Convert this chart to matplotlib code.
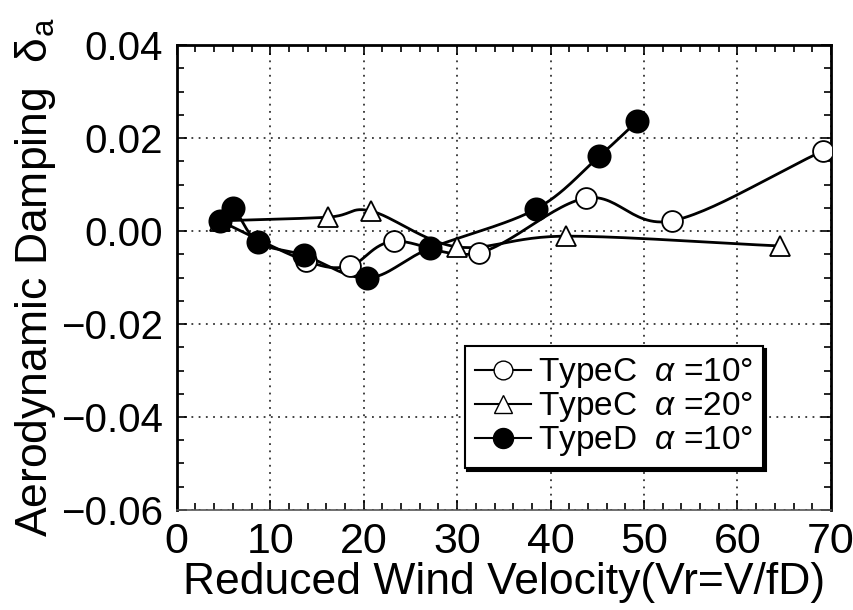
import numpy as np
import matplotlib
matplotlib.use("Agg")
import matplotlib.pyplot as plt
from matplotlib.ticker import MultipleLocator

plt.rcParams['font.family'] = ['Liberation Sans', 'DejaVu Sans']
plt.rcParams['mathtext.fontset'] = 'custom'
plt.rcParams['mathtext.rm'] = 'Liberation Sans'
plt.rcParams['mathtext.it'] = 'Liberation Sans:italic'

# Reduced wind velocity Vr and aerodynamic damping for each model
vr_c10 = [4.6, 13.8, 18.5, 23.2, 32.3, 43.8, 53.0, 69.1]
da_c10 = [0.0022, -0.0064, -0.0075, -0.0022, -0.0047, 0.0071, 0.0022, 0.0172]

vr_c20 = [4.6, 16.2, 20.8, 30.0, 41.6, 64.5]
da_c20 = [0.0022, 0.0030, 0.0043, -0.0034, -0.0011, -0.0032]

vr_d10 = [4.6, 6.0, 8.7, 13.6, 20.4, 27.1, 38.4, 45.2, 49.3]
da_d10 = [0.0022, 0.0049, -0.0024, -0.0052, -0.0101, -0.0037, 0.0047, 0.0161, 0.0237]

labels = [r"TypeC  $\mathit{\alpha}$ =10°", r"TypeC  $\mathit{\alpha}$ =20°", r"TypeD  $\mathit{\alpha}$ =10°"]

x_ticks = [0, 10, 20, 30, 40, 50, 60, 70]
y_ticks = [-0.06, -0.04, -0.02, 0.00, 0.02, 0.04]


def smooth_curve(x, y, n=30):
    """Catmull-Rom spline through the measured points."""
    p = np.column_stack([x, y]).astype(float)
    p = np.vstack([2 * p[0] - p[1], p, 2 * p[-1] - p[-2]])
    out = []
    t = np.linspace(0, 1, n)
    for i in range(1, len(p) - 2):
        p0, p1, p2, p3 = p[i - 1], p[i], p[i + 1], p[i + 2]
        seg = 0.5 * ((2 * p1)[None, :]
                     + (-p0 + p2)[None, :] * t[:, None]
                     + (2 * p0 - 5 * p1 + 4 * p2 - p3)[None, :] * t[:, None] ** 2
                     + (-p0 + 3 * p1 - 3 * p2 + p3)[None, :] * t[:, None] ** 3)
        out.append(seg if i == 1 else seg[1:])
    s = np.vstack(out)
    return s[:, 0], s[:, 1]


fig = plt.figure(figsize=(8.54, 6.10), dpi=100)
ax = fig.add_axes([0.207, 0.164, 0.766, 0.762])

series = [
    (vr_c10, da_c10, dict(marker='o', markersize=15, markerfacecolor='white')),
    (vr_c20, da_c20, dict(marker='^', markersize=14, markerfacecolor='white')),
    (vr_d10, da_d10, dict(marker='o', markersize=16, markerfacecolor='black')),
]

handles = []
for (xs, ys, mk), lab in zip(series, labels):
    sx, sy = smooth_curve(xs, ys)
    ax.plot(sx, sy, color='black', lw=2.0, zorder=3)
    ax.plot(xs, ys, linestyle='none', color='black', markeredgecolor='black',
            markeredgewidth=1.3, zorder=4, **mk)
    h, = ax.plot([], [], color='black', lw=1.5, markeredgecolor='black',
                 markeredgewidth=1.0, **{**mk, 'markersize': mk['markersize'] * 0.9})
    handles.append(h)

ax.set_xlim(0, 70)
ax.set_ylim(-0.06, 0.04)
ax.set_xticks(x_ticks)
ax.set_yticks(y_ticks)
ax.set_xticklabels([str(v) for v in x_ticks])
ax.set_yticklabels(["\u22120.06", "\u22120.04", "\u22120.02", "0.00", "0.02", "0.04"])
ax.xaxis.set_minor_locator(MultipleLocator(2))
ax.yaxis.set_minor_locator(MultipleLocator(0.005))
ax.tick_params(which='both', direction='in', top=True, right=True, width=1.2)
ax.tick_params(which='major', length=7, labelsize=29, pad=10)
ax.tick_params(axis='x', which='major', labelsize=31, pad=9)
ax.tick_params(which='minor', length=5)

ax.grid(True, which='major', linestyle=(0, (1, 3)), color='#333333', lw=1.3)
for sp in ax.spines.values():
    sp.set_linewidth(2.0)
ax.spines['bottom'].set_linewidth(1.2)
ax.spines['bottom'].set_color('#555555')

ax.set_xlabel("Reduced Wind Velocity(Vr=V/fD)", fontsize=32, labelpad=0)
ax.set_ylabel("Aerodynamic Damping  δ$_{\\mathrm{a}}$", fontsize=32, labelpad=2)

leg = ax.legend(handles, labels, loc='upper left', bbox_to_anchor=(0.44, 0.352),
                fontsize=24, frameon=True, fancybox=False, shadow={'color': 'black', 'alpha': 1.0},
                handlelength=1.7, handletextpad=0.2, borderpad=0.3, labelspacing=0.0,
                borderaxespad=0)
leg.get_frame().set_edgecolor('black')
leg.get_frame().set_linewidth(1.5)

fig.savefig("out.png", dpi=100)
